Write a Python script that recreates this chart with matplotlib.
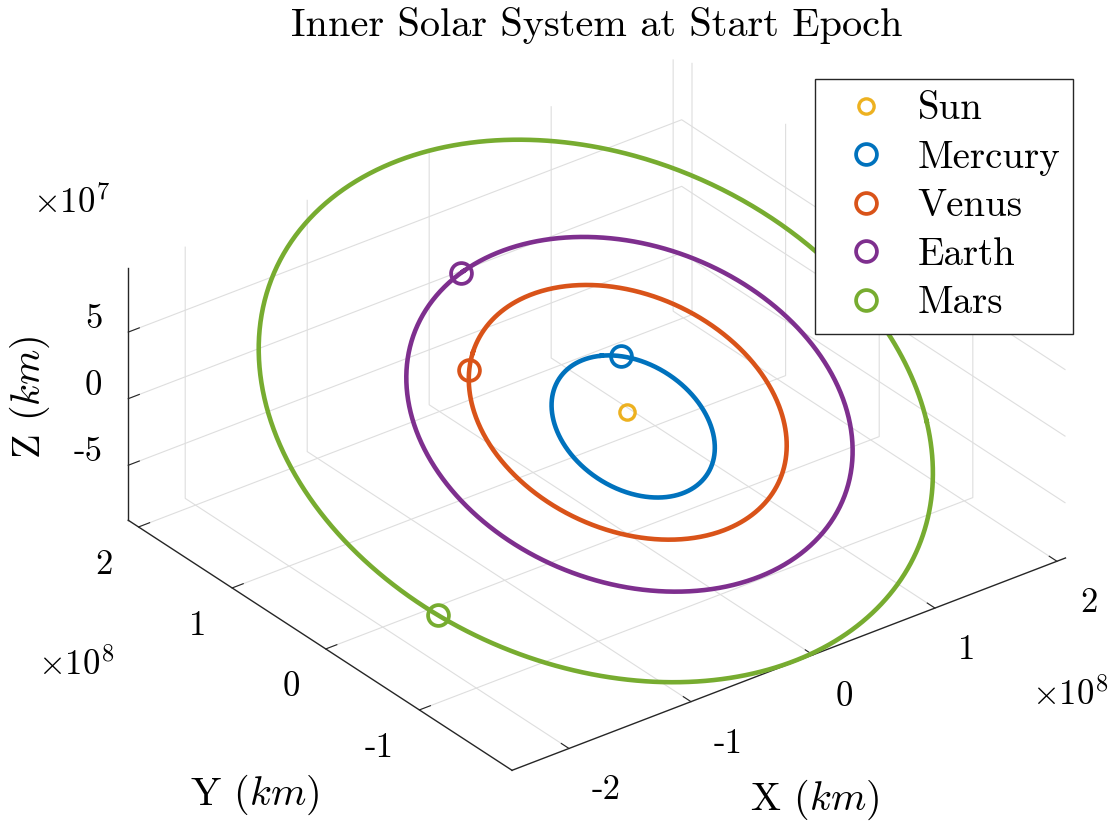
import numpy as np
import matplotlib
matplotlib.use("Agg")
import matplotlib.pyplot as plt
from matplotlib.ticker import FixedLocator, NullFormatter
from matplotlib.transforms import offset_copy
from mpl_toolkits.mplot3d import proj3d

# ---------------- data ----------------
AU_KM = 1.495979e8
body_names = ["Mercury", "Venus", "Earth", "Mars"]
semi_major_au = [0.3871, 0.7233, 1.0000, 1.5237]
eccentricity = [0.2056, 0.0068, 0.0167, 0.0934]
inclination_deg = [7.005, 3.395, 0.000, 1.850]
node_deg = [48.33, 76.68, 0.00, 49.56]
peri_arg_deg = [29.12, 54.88, 102.94, 286.50]
epoch_longitude_deg = [60.0, 140.0, 104.0, 203.0]
obliquity_deg = 23.44
sun_position_km = [0.0, 0.0, 0.0]

colors = ["#0072BD", "#D95319", "#7E2F8E", "#77AC30"]
sun_color = "#EDB120"

x_limits = (-2.467e8, 2.07e8)
y_limits = (-1.99e8, 2.11e8)
z_limits = (-0.913e8, 0.978e8)
x_ticks = [-2e8, -1e8, 0, 1e8, 2e8]
y_ticks = [-1e8, 0, 1e8, 2e8]
z_ticks = [-5e7, 0, 5e7]
x_tick_labels = ["-2", "-1", "0", "1", "2"]
y_tick_labels = ["-1", "0", "1", "2"]
z_tick_labels = ["-5", "0", "5"]

title_text = "Inner Solar System at Start Epoch"
x_label, y_label, z_label = "X $(km)$", "Y $(km)$", "Z $(km)$"


def orbit_state(a_au, e, inc, node, argp, nu_deg):
    nu = np.radians(nu_deg)
    a = a_au * AU_KM
    r = a * (1 - e**2) / (1 + e * np.cos(nu))
    u = np.radians(argp) + nu
    O = np.radians(node)
    i = np.radians(inc)
    x = r * (np.cos(O) * np.cos(u) - np.sin(O) * np.sin(u) * np.cos(i))
    y = r * (np.sin(O) * np.cos(u) + np.cos(O) * np.sin(u) * np.cos(i))
    z = r * (np.sin(u) * np.sin(i))
    eps = np.radians(obliquity_deg)
    ye = y * np.cos(eps) - z * np.sin(eps)
    ze = y * np.sin(eps) + z * np.cos(eps)
    return x, ye, ze


# ---------------- style ----------------
plt.rcParams["font.family"] = ["cmr10", "DejaVu Serif"]
plt.rcParams["mathtext.fontset"] = "cm"
plt.rcParams["axes.unicode_minus"] = False
plt.rcParams["axes.formatter.use_mathtext"] = True
plt.rcParams["grid.color"] = "#dedede"
plt.rcParams["grid.linewidth"] = 0.8

FW, FH = 1115, 826
fig = plt.figure(figsize=(FW / 100, FH / 100), dpi=100)
ax = fig.add_axes([0.05, 0.05, 0.9, 0.9], projection="3d", proj_type="ortho")
ax.computed_zorder = False

nu_grid = np.linspace(0, 360, 721)
handles = []
h_sun, = ax.plot([sun_position_km[0]], [sun_position_km[1]], [sun_position_km[2]],
                 linestyle="none", marker="o", markersize=11, markerfacecolor="none",
                 markeredgecolor=sun_color, markeredgewidth=2.4, zorder=5)
handles.append(h_sun)
for k, name in enumerate(body_names):
    xs, ys, zs = orbit_state(semi_major_au[k], eccentricity[k], inclination_deg[k],
                             node_deg[k], peri_arg_deg[k], nu_grid)
    ax.plot(xs, ys, zs, color=colors[k], linewidth=3.3, zorder=3)
    nu0 = epoch_longitude_deg[k] - node_deg[k] - peri_arg_deg[k]
    px, py, pz = orbit_state(semi_major_au[k], eccentricity[k], inclination_deg[k],
                             node_deg[k], peri_arg_deg[k], nu0)
    h, = ax.plot([px], [py], [pz], linestyle="none", marker="o", markersize=15,
                 markerfacecolor="none", markeredgecolor=colors[k],
                 markeredgewidth=2.7, zorder=6)
    handles.append(h)

ax.set_xlim(*x_limits)
ax.set_ylim(*y_limits)
ax.set_zlim(*z_limits)
ax.set_box_aspect((x_limits[1] - x_limits[0], y_limits[1] - y_limits[0],
                   z_limits[1] - z_limits[0]))
ax.view_init(elev=30, azim=-127.5)

ax.xaxis.set_major_locator(FixedLocator(x_ticks))
ax.yaxis.set_major_locator(FixedLocator(y_ticks))
ax.zaxis.set_major_locator(FixedLocator(z_ticks))
for axis in (ax.xaxis, ax.yaxis, ax.zaxis):
    axis.set_major_formatter(NullFormatter())
    axis.set_pane_color((1, 1, 1, 0))
    axis._axinfo["grid"].update(color="#dedede", linewidth=0.8)
    axis._axinfo["tick"]["inward_factor"] = 0.0
    axis._axinfo["tick"]["outward_factor"] = 0.25
    axis.line.set_color("#262626")
    axis.line.set_linewidth(1.0)
ax.tick_params(axis="both", colors="#262626")

# ---- calibrate the axes placement so the box corners land where the reference has them
fig.canvas.draw()
corners = [(x_limits[0], y_limits[0], z_limits[0]),
           (x_limits[1], y_limits[0], z_limits[0]),
           (x_limits[0], y_limits[1], z_limits[1]),
           (x_limits[0], y_limits[1], z_limits[0])]
targets = np.array([(513, FH - 770), (1065, FH - 559), (128, FH - 268), (128, FH - 520)], float)
M = ax.get_proj()
cur = []
for c in corners:
    x2, y2, _ = proj3d.proj_transform(c[0], c[1], c[2], M)
    cur.append(ax.transData.transform((x2, y2)))
cur = np.array(cur)
cm, tm = cur.mean(0), targets.mean(0)
kfac = np.sum((cur - cm) * (targets - tm)) / np.sum((cur - cm) ** 2)
tvec = tm - kfac * cm
bb = ax.get_position(original=True)
x0, y0 = bb.x0 * FW, bb.y0 * FH
w, h = bb.width * FW, bb.height * FH
ax.set_position([(kfac * x0 + tvec[0]) / FW, (kfac * y0 + tvec[1]) / FH,
                 w * kfac / FW, h * kfac / FH])

# ---- tick labels (placed at the 3D tick positions, MATLAB-like offsets in pixels)
TICK_FS = 25


def tick_label(x, y, z, s, dx, dy, ha):
    tr = offset_copy(ax.transData, fig=fig, x=dx, y=-dy, units="dots")
    ax.text(x, y, z, s, transform=tr, ha=ha, va="baseline", fontsize=TICK_FS,
            color="black", zorder=10)


for v, s in zip(x_ticks, x_tick_labels):
    tick_label(v, y_limits[0], z_limits[0], s, 23, 51, "left")
for v, s in zip(y_ticks, y_tick_labels):
    tick_label(x_limits[0], v, z_limits[0], s, -26, 47, "right")
for v, s in zip(z_ticks, z_tick_labels):
    tick_label(x_limits[0], y_limits[1], v, s, -26, -4, "right")

# ---- texts
fig.text(597 / FW, 1 - 25 / FH, title_text, ha="center", va="center", fontsize=29)
fig.text(815 / FW, 1 - 800 / FH, x_label, ha="center", va="center", fontsize=29)
fig.text(255 / FW, 1 - 795 / FH, y_label, ha="center", va="center", fontsize=29)
fig.text(30 / FW, 1 - 397 / FH, z_label, ha="center", va="center", fontsize=29,
         rotation=90)
fig.text(72 / FW, 1 - 203 / FH, r"$\times10^{7}$", ha="center", va="center", fontsize=25)
fig.text(76 / FW, 1 - 665 / FH, r"$\times10^{8}$", ha="center", va="center", fontsize=25)
fig.text(1070 / FW, 1 - 695 / FH, r"$\times10^{8}$", ha="center", va="center", fontsize=25)

leg = ax.legend(handles, ["Sun"] + body_names, loc="upper left",
                bbox_to_anchor=(815 / FW, 1 - 79 / FH), bbox_transform=fig.transFigure,
                fontsize=28, frameon=True, fancybox=False, framealpha=1,
                edgecolor="#262626", labelspacing=0.325, handletextpad=0.32,
                borderpad=0.32, handlelength=2.0, borderaxespad=0)
leg.get_frame().set_linewidth(1.0)

fig.savefig("out.png", dpi=100)
